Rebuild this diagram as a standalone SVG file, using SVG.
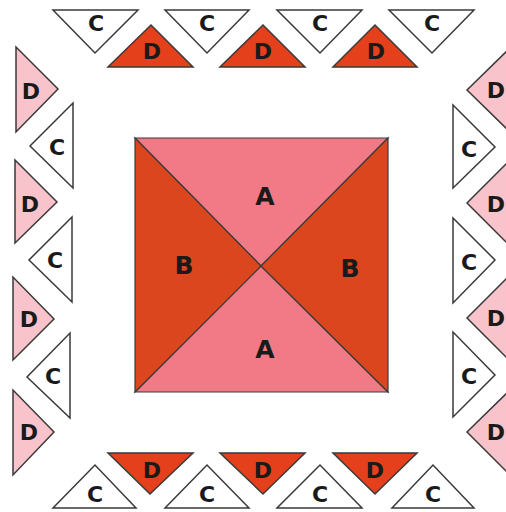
<svg xmlns="http://www.w3.org/2000/svg" width="506" height="512" viewBox="0 0 506 512">
<style>
.c{fill:#ffffff;stroke:#3a3a3a;stroke-width:1.5;stroke-linejoin:miter}
.d{fill:#e3401b;stroke:#3a3a3a;stroke-width:1.5}
.p{fill:#f8c3ca;stroke:#3a3a3a;stroke-width:1.5}
.a{fill:#f27a87;stroke:#3a3a3a;stroke-width:1.2}
.b{fill:#dc461e;stroke:#3a3a3a;stroke-width:1.2}
text{font-family:"DejaVu Sans","Liberation Sans",sans-serif;font-weight:bold;font-size:22px;fill:#1a1a1a;text-anchor:middle}
.big{font-size:25px}
</style>
<rect width="506" height="512" fill="#ffffff"/>
<g id="center">
<g id="A-top"><polygon class="a" points="135,138 388,138 261,266"/><text class="big" x="265" y="205">A</text></g>
<g id="A-bottom"><polygon class="a" points="135,392 388,392 261,266"/><text class="big" x="265" y="358">A</text></g>
<g id="B-left"><polygon class="b" points="135,138 135,392 261,266"/><text class="big" x="184" y="274">B</text></g>
<g id="B-right"><polygon class="b" points="388,138 388,392 261,266"/><text class="big" x="350" y="277">B</text></g>
</g>
<g id="top-row">
<g id="tC1"><polygon class="c" points="53,10 138,10 95,53"/><text x="96" y="31">C</text></g>
<g id="tC2"><polygon class="c" points="165,10 249,10 207,53"/><text x="207" y="31">C</text></g>
<g id="tC3"><polygon class="c" points="277,10 362,10 320,53"/><text x="320" y="31">C</text></g>
<g id="tC4"><polygon class="c" points="389,10 474,10 432,53"/><text x="432" y="31">C</text></g>
<g id="tD1"><polygon class="d" points="108,67 193,67 151,25"/><text x="152" y="59">D</text></g>
<g id="tD2"><polygon class="d" points="220,67 305,67 263,25"/><text x="263" y="59">D</text></g>
<g id="tD3"><polygon class="d" points="333,67 417,67 375,25"/><text x="376" y="59">D</text></g>
</g>
<g id="bottom-row">
<g id="bD1"><polygon class="d" points="108,453 193,453 150,494"/><text x="152" y="478">D</text></g>
<g id="bD2"><polygon class="d" points="220,453 305,453 263,494"/><text x="263" y="478">D</text></g>
<g id="bD3"><polygon class="d" points="333,453 417,453 375,494"/><text x="375" y="478">D</text></g>
<g id="bC1"><polygon class="c" points="53,508 136,508 95,465"/><text x="95" y="502">C</text></g>
<g id="bC2"><polygon class="c" points="165,508 249,508 207,465"/><text x="207" y="502">C</text></g>
<g id="bC3"><polygon class="c" points="277,508 362,508 320,465"/><text x="320" y="502">C</text></g>
<g id="bC4"><polygon class="c" points="392,508 474,508 433,465"/><text x="433" y="502">C</text></g>
</g>
<g id="left-col">
<g id="lD1"><polygon class="p" points="16,47 16,132 58,89"/><text x="31" y="99">D</text></g>
<g id="lC1"><polygon class="c" points="73,103 73,188 30,146"/><text x="57" y="155">C</text></g>
<g id="lD2"><polygon class="p" points="15,160 15,243 57,202"/><text x="30" y="212">D</text></g>
<g id="lC2"><polygon class="c" points="72,217 72,302 29,260"/><text x="55" y="268">C</text></g>
<g id="lD3"><polygon class="p" points="13,277 13,360 54,319"/><text x="29" y="327">D</text></g>
<g id="lC3"><polygon class="c" points="70,333 70,418 27,377"/><text x="53" y="384">C</text></g>
<g id="lD4"><polygon class="p" points="13,390 13,475 54,432"/><text x="29" y="440">D</text></g>
</g>
<g id="right-col">
<g id="rD1"><polygon class="p" points="510,48 510,132 467,90"/><text x="496" y="98">D</text></g>
<g id="rC1"><polygon class="c" points="453,105 453,188 495,147"/><text x="469" y="157">C</text></g>
<g id="rD2"><polygon class="p" points="510,160 510,246 467,203"/><text x="496" y="212">D</text></g>
<g id="rC2"><polygon class="c" points="453,218 453,303 495,260"/><text x="469" y="270">C</text></g>
<g id="rD3"><polygon class="p" points="510,275 510,361 467,318"/><text x="496" y="326">D</text></g>
<g id="rC3"><polygon class="c" points="453,332 453,417 495,375"/><text x="469" y="384">C</text></g>
<g id="rD4"><polygon class="p" points="510,390 510,475 467,432"/><text x="496" y="440">D</text></g>
</g>
<g id="connectors"/>
</svg>
